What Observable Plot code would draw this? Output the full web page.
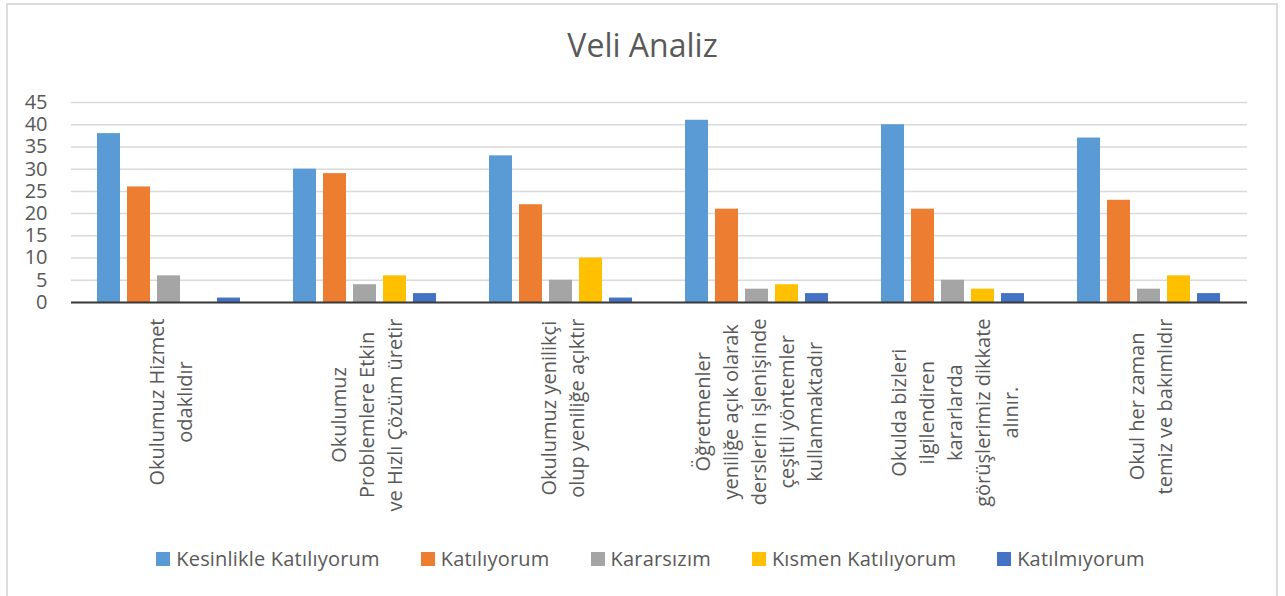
<!DOCTYPE html>
<html>
<head>
<meta charset="utf-8">
<script src="https://cdn.jsdelivr.net/npm/d3@7"></script>
<script src="https://cdn.jsdelivr.net/npm/@observablehq/plot@0.6"></script>
<style>
  html, body { margin: 0; padding: 0; background: #fff; width: 1285px; height: 596px; overflow: hidden; }
  body { position: relative; font-family: "Open Sans", sans-serif; color: #595959; }
  #frame { position: absolute; left: 6px; top: 3px; width: 1272px; height: 700px; border: 2px solid #dcdcdc; box-sizing: border-box; }
  #title { position: absolute; left: 0; top: 29px; width: 1285px; text-align: center; font-size: 32px; line-height: 32px; color: #595959; }
  #chart { position: absolute; left: 0; top: 80px; }
  #legend { position: absolute; left: 0; top: 546px; width: 1285px; padding-left: 16px; box-sizing: border-box; display: flex; justify-content: center; gap: 41px; font-size: 20px; letter-spacing: 0.2px; line-height: 26px; color: #595959; }
  .item { display: flex; align-items: center; white-space: nowrap; }
  .sw { width: 14px; height: 14px; margin-right: 6px; display: inline-block; }
</style>
</head>
<body>
<div id="frame"></div>
<div id="title">Veli Analiz</div>
<div id="chart"></div>
<div id="legend"></div>
<script>
const categories = [
  "Okulumuz Hizmet\nodaklıdır",
  "Okulumuz\nProblemlere Etkin\nve Hızlı Çözüm üretir",
  "Okulumuz yenilikçi\nolup yeniliğe açıktır",
  "Öğretmenler\nyeniliğe açık olarak\nderslerin işlenişinde\nçeşitli yöntemler\nkullanmaktadır",
  "Okulda bizleri\nilgilendiren\nkararlarda\ngörüşlerimiz dikkate\nalınır.",
  "Okul her zaman\ntemiz ve bakımlıdır"
];
const series = ["Kesinlikle Katılıyorum", "Katılıyorum", "Kararsızım", "Kısmen Katılıyorum", "Katılmıyorum"];
const kesinlikleKatiliyorum = [38, 30, 33, 41, 40, 37];
const katiliyorum = [26, 29, 22, 21, 21, 23];
const kararsizim = [6, 4, 5, 3, 5, 3];
const kismenKatiliyorum = [0, 6, 10, 4, 3, 6];
const katilmiyorum = [1, 2, 1, 2, 2, 2];
const colors = ["#5B9BD5", "#ED7D31", "#A5A5A5", "#FFC000", "#4472C4"];
const yTicks = [0, 5, 10, 15, 20, 25, 30, 35, 40, 45];

const seriesValues = [kesinlikleKatiliyorum, katiliyorum, kararsizim, kismenKatiliyorum, katilmiyorum];
const data = [];
categories.forEach((c, i) => {
  series.forEach((s, j) => data.push({cat: c, series: s, value: seriesValues[j][i]}));
});

const chart = Plot.plot({
  width: 1285,
  height: 460,
  marginTop: 22,
  marginBottom: 238,
  marginLeft: 71,
  marginRight: 38,
  style: {fontFamily: "Open Sans", fontSize: "20px", color: "#595959", background: "transparent", overflow: "visible"},
  fx: {domain: categories, padding: 0, axis: null},
  x: {domain: series, paddingInner: 0.233, paddingOuter: 0.883, axis: null},
  y: {domain: [0, 45], ticks: yTicks, tickSize: 0, tickPadding: 24, label: null},
  color: {domain: series, range: colors},
  marks: [
    Plot.ruleY(yTicks, {stroke: "#d9d9d9", strokeWidth: 1.5}),
    Plot.barY(data, {fx: "cat", x: "series", y: "value", fill: "series"}),
    Plot.ruleY([0], {stroke: "#3a3a3a", strokeWidth: 2}),
    Plot.text(categories, {fx: d => d, text: d => d, frameAnchor: "bottom", rotate: -90, textAnchor: "middle", lineAnchor: "middle", lineHeight: 1.4, dy: 16, fontSize: 20, fill: "#595959"})
  ]
});
document.getElementById("chart").appendChild(chart);

// align the top of each rotated label block (lines stay centred on each other)
chart.querySelectorAll('g[aria-label="text"] text').forEach(t => {
  const w = t.getBBox().width;
  t.setAttribute("transform", `translate(0,${w / 2}) ` + (t.getAttribute("transform") || ""));
});

const legend = document.getElementById("legend");
series.forEach((s, i) => {
  const item = document.createElement("div");
  item.className = "item";
  const sw = document.createElement("span");
  sw.className = "sw";
  sw.style.background = colors[i];
  item.appendChild(sw);
  item.appendChild(document.createTextNode(s));
  legend.appendChild(item);
});
</script>
</body>
</html>
